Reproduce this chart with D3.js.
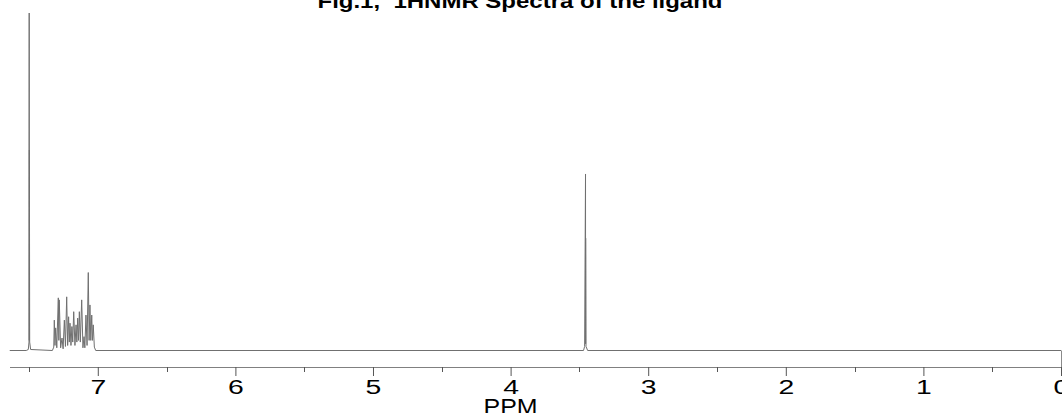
<!DOCTYPE html>
<html>
<head>
<meta charset="utf-8">
<script src="https://cdn.jsdelivr.net/npm/d3@7"></script>
<style>
  body { margin: 0; background: #fff; }
  svg { display: block; }
  text { font-family: "Liberation Sans", Arial, sans-serif; }
</style>
</head>
<body>
<div id="chart"></div>
<script>
// 1H NMR trace: chemical shift (ppm) and relative intensity

var tracePPM = [7.64, 7.52, 7.505, 7.500, 7.4985, 7.4975, 7.4970, 7.495, 7.488,
    7.33, 7.32, 7.316, 7.311, 7.306, 7.298, 7.287, 7.283, 7.280, 7.270, 7.260,
    7.252, 7.243, 7.235, 7.226, 7.219, 7.212, 7.207, 7.202, 7.195, 7.188, 7.182,
    7.175, 7.166, 7.158, 7.152, 7.146, 7.140, 7.134, 7.127, 7.117, 7.108, 7.100,
    7.094, 7.086, 7.078, 7.069, 7.063, 7.057, 7.051, 7.044, 7.039, 7.033, 7.025,
    7.015, 3.47, 3.462, 3.4555, 3.4550, 3.4545, 3.452, 3.44, 0];

var traceInt = [0, 0, 0.3, 2.5, 100, 3, 59.4, 2.5, 0.3,
    0, 1.0, 9.0, 1.5, 6.7, 0.8, 15.6, 3, 15.0, 0.8, 3.7,
    0.5, 9.0, 1.2, 15.9, 1.5, 10.0, 2.5, 8.1, 1.5, 7.1, 2.5,
    11.5, 1.5, 7.6, 2.5, 9.6, 3, 11.5, 2.5, 15.0, 0.8, 4.1,
    0.8, 10.5, 1.5, 23.1, 3, 13.5, 3, 10.5, 3, 7.6, 1.0,
    0, 0, 1.2, 52.3, 2, 33.3, 1.2, 0, 0];

var majorTicks = [7, 6, 5, 4, 3, 2, 1, 0];
var minorTicks = [7.5, 6.5, 5.5, 4.5, 3.5, 2.5, 1.5, 0.5];

var titleText = "Fig.1,\u00a0\u00a01HNMR Spectra of the ligand";
var xLabel = "PPM";

var svgWidth = 1062;
var svgHeight = 413;

var svg = d3.select("#chart")
    .append("svg")
    .attr("width", svgWidth)
    .attr("height", svgHeight);

// ppm runs right to left
var xScale = d3.scaleLinear()
    .domain([7.638, 0])
    .range([10, 1061]);

var yScale = d3.scaleLinear()
    .domain([0, 100])
    .range([350.5, 13]);

var points = tracePPM.map(function(p, i) {
    return [p, traceInt[i]];
});

var line = d3.line()
    .x(function(d) { return xScale(d[0]); })
    .y(function(d) { return yScale(d[1]); });

svg.append("path")
    .datum(points)
    .attr("fill", "none")
    .attr("stroke", "#707070")
    .attr("stroke-width", 1)
    .attr("d", line);

// small closing stroke at the right end between trace and axis
svg.append("line")
    .attr("x1", xScale(0) + 0.5)
    .attr("x2", xScale(0) + 0.5)
    .attr("y1", yScale(0))
    .attr("y2", 369)
    .attr("stroke", "#8a8a8a");

// axis
var axisY = 367;

var bottomAxis = d3.axisBottom(xScale)
    .tickValues(majorTicks)
    .tickSize(9)
    .tickSizeOuter(0)
    .tickFormat(d3.format("d"));

var axisG = svg.append("g")
    .attr("class", "x-axis")
    .attr("transform", "translate(0," + axisY + ")")
    .call(bottomAxis);

axisG.select(".domain")
    .attr("stroke", "#808080")
    .attr("d", "M10,0.5H1062");

axisG.selectAll(".tick line").attr("stroke", "#555");

axisG.selectAll(".tick text")
    .attr("fill", "#000")
    .attr("font-size", "21px")
    .attr("font-family", "Liberation Sans, Arial, sans-serif")
    .attr("transform", "scale(1.35,1)");

svg.append("g")
    .selectAll("line")
    .data(minorTicks)
    .enter()
    .append("line")
    .attr("x1", function(d) { return Math.round(xScale(d)) + 0.5; })
    .attr("x2", function(d) { return Math.round(xScale(d)) + 0.5; })
    .attr("y1", axisY)
    .attr("y2", axisY + 5)
    .attr("stroke", "#555");

// x label
svg.append("text")
    .attr("x", xScale(4))
    .attr("y", 414)
    .attr("text-anchor", "middle")
    .attr("font-size", "22px")
    .attr("textLength", 54)
    .attr("lengthAdjust", "spacingAndGlyphs")
    .text(xLabel);

// title, cut at top like the reference
svg.append("text")
    .attr("x", 520)
    .attr("y", 8)
    .attr("text-anchor", "middle")
    .attr("font-size", "20px")
    .attr("font-weight", "bold")
    .attr("textLength", 405)
    .attr("lengthAdjust", "spacingAndGlyphs")
    .text(titleText);
</script>
</body>
</html>
